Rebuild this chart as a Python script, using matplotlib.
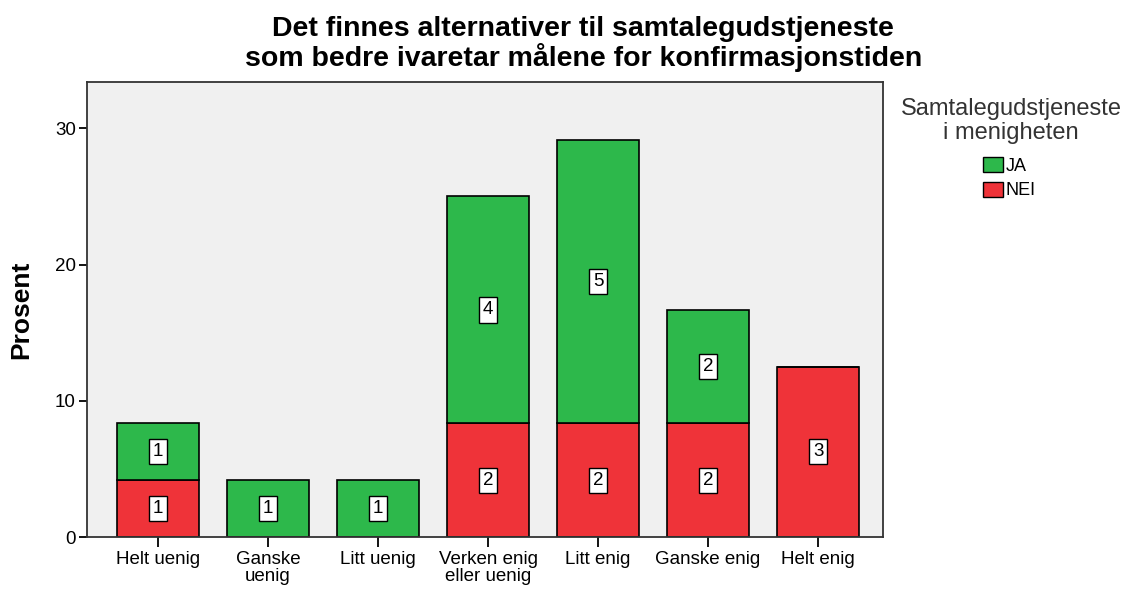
import matplotlib
matplotlib.use('Agg')
import matplotlib.pyplot as plt
from matplotlib.patches import Patch
import numpy as np

plt.rcParams['font.family'] = ['Liberation Sans', 'DejaVu Sans']

categories = ['Helt uenig', 'Ganske\nuenig', 'Litt uenig', 'Verken enig\neller uenig',
              'Litt enig', 'Ganske enig', 'Helt enig']
nei_counts = [1, 0, 0, 2, 2, 2, 3]
ja_counts = [1, 1, 1, 4, 5, 2, 0]
total_n = 24

# percent of all respondents
nei_pct = np.array(nei_counts) / total_n * 100
ja_pct = np.array(ja_counts) / total_n * 100

green = '#2db84b'
red = '#ef3339'

fig = plt.figure(figsize=(11.28, 5.9), dpi=100)
ax = fig.add_axes([0.0771, 0.0898, 0.7057, 0.7712])
ax.set_facecolor('#f0f0f0')

x = np.arange(len(categories))
w = 0.745
ax.bar(x, nei_pct, w, color=red, edgecolor='black', linewidth=1.2, zorder=2)
ax.bar(x, ja_pct, w, bottom=nei_pct, color=green, edgecolor='black', linewidth=1.2, zorder=2)

# count labels in white boxes
box = dict(boxstyle='square,pad=0.22', facecolor='white', edgecolor='black', linewidth=1.0)
for i in range(len(categories)):
    if nei_counts[i] > 0:
        ax.text(x[i], nei_pct[i] / 2, str(nei_counts[i]), ha='center', va='center',
                fontsize=13.5, bbox=box, zorder=3)
    if ja_counts[i] > 0:
        ax.text(x[i], nei_pct[i] + ja_pct[i] / 2, str(ja_counts[i]), ha='center', va='center',
                fontsize=13.5, bbox=box, zorder=3)

ax.set_xlim(-0.645, 6.59)
ax.set_ylim(0, 33.4)
ax.set_yticks([0, 10, 20, 30])
ax.set_xticks(x)
ax.set_xticklabels(categories, fontsize=13.5, linespacing=1.0)
ax.tick_params(axis='y', labelsize=13.5, length=6, width=1.3, pad=2)
ax.tick_params(axis='x', length=7, width=1.3, pad=3)
for s in ax.spines.values():
    s.set_linewidth(1.3)
    s.set_color('#333333')

ax.set_ylabel('Prosent', fontsize=19, fontweight='bold')
ax.yaxis.set_label_coords(-0.068, 0.5)

fig.text(0.517, 0.973, 'Det finnes alternativer til samtalegudstjeneste\nsom bedre ivaretar målene for konfirmasjonstiden',
         ha='center', va='top', fontsize=20.5, fontweight='bold', linespacing=1.05)

# legend title and entries placed separately so entries sit centred under the title
fig.text(1011 / 1128, 1 - 98 / 590, 'Samtalegudstjeneste\ni menigheten', ha='center', va='top',
         fontsize=17, color='#333333', linespacing=1.1)
handles = [Patch(facecolor=green, edgecolor='black', label='JA'),
           Patch(facecolor=red, edgecolor='black', label='NEI')]
fig.legend(handles=handles, loc='upper left', bbox_to_anchor=(983 / 1128, 1 - 157 / 590),
           frameon=False, fontsize=13, handlelength=1.1, handleheight=0.9,
           handletextpad=0.15, labelspacing=0.38, borderpad=0, borderaxespad=0)

fig.savefig('out.png', dpi=100)
